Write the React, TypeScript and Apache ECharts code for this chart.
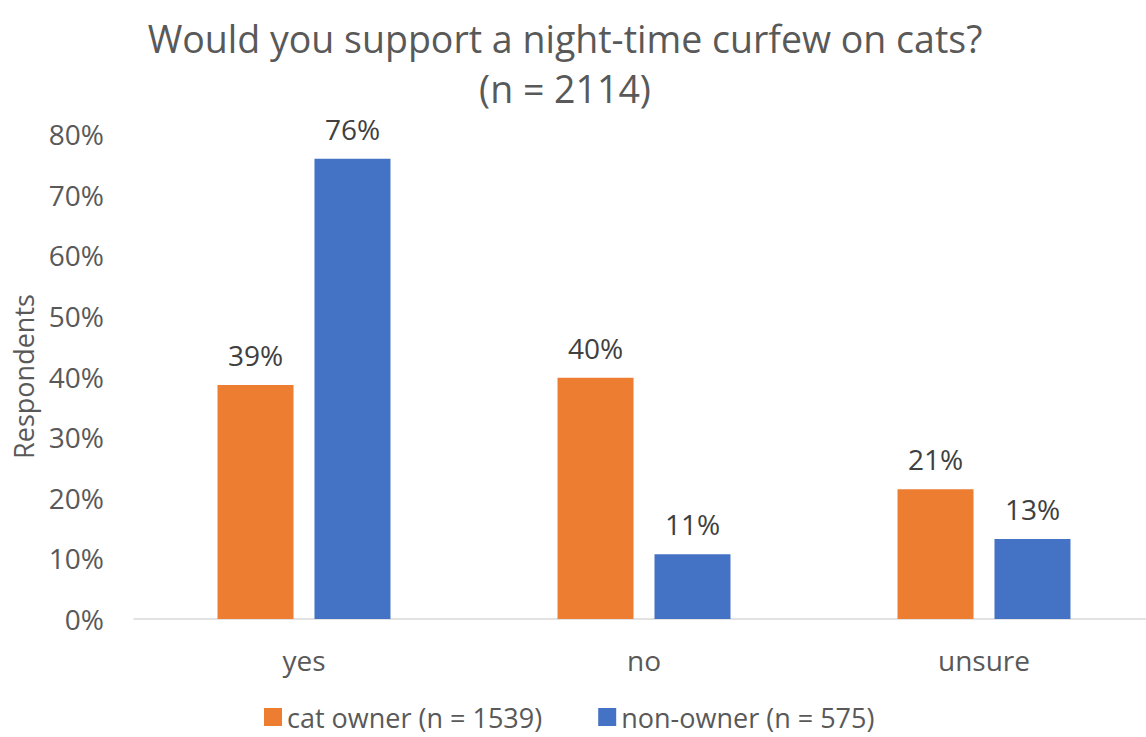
import React, { useEffect, useRef } from "react";
import * as echarts from "echarts";

const categories = ["yes", "no", "unsure"];
const catOwner = [38.6, 39.8, 21.4];
const nonOwner = [75.9, 10.7, 13.2];
const seriesNames = ["cat owner (n = 1539)", "non-owner (n = 575)"];
const yTicks = { min: 0, max: 80, interval: 10 };
const titleText = "Would you support a night-time curfew on cats?\n(n = 2114)";

const FONT = "'Open Sans', sans-serif";

export default function App() {
  const ref = useRef<HTMLDivElement>(null);
  useEffect(() => {
    if (!ref.current) return;
    const chart = echarts.init(ref.current, null, { renderer: "svg" });
    const label = {
      show: true,
      position: "top",
      distance: 16,
      color: "#404040",
      fontSize: 28,
      fontFamily: FONT,
      formatter: (p: any) => Math.round(p.value) + "%",
    };
    chart.setOption({
      animation: false,
      backgroundColor: "#ffffff",
      textStyle: { fontFamily: FONT },
      title: {
        text: titleText,
        left: 565,
        top: 13,
        padding: 0,
        textAlign: "center",
        textStyle: {
          color: "#595959",
          fontSize: 37.5,
          fontWeight: "normal",
          fontFamily: FONT,
          lineHeight: 50,
        },
      },
      legend: {
        left: 264,
        top: 703,
        padding: 0,
        itemWidth: 18,
        itemHeight: 18,
        itemGap: 56,
        icon: "rect",
        textStyle: { color: "#595959", fontSize: 27, lineHeight: 28, fontFamily: FONT },
        data: seriesNames,
      },
      grid: { left: 134, top: 134, width: 1020, height: 485, outerBoundsMode: "none" },
      xAxis: {
        type: "category",
        data: categories,
        axisLine: { lineStyle: { color: "#D9D9D9", width: 1.5 } },
        axisTick: { show: false },
        axisLabel: { color: "#595959", fontSize: 28, fontFamily: FONT, margin: 27 },
      },
      yAxis: {
        type: "value",
        min: yTicks.min,
        max: yTicks.max,
        interval: yTicks.interval,
        name: "Respondents",
        nameLocation: "middle",
        nameRotate: 90,
        nameGap: 97,
        nameTextStyle: { color: "#595959", fontSize: 27, fontFamily: FONT },
        axisLine: { show: false },
        axisTick: { show: false },
        splitLine: { show: false },
        axisLabel: {
          color: "#595959",
          fontSize: 28,
          fontFamily: FONT,
          margin: 30,
          formatter: "{value}%",
        },
      },
      series: [
        {
          name: seriesNames[0],
          type: "bar",
          data: catOwner,
          barWidth: 76,
          barGap: "27.6%",
          itemStyle: { color: "#ED7D31" },
          label,
        },
        {
          name: seriesNames[1],
          type: "bar",
          data: nonOwner,
          barWidth: 76,
          barGap: "27.6%",
          itemStyle: { color: "#4472C4" },
          label,
        },
      ],
    });
    return () => chart.dispose();
  }, []);
  return (
    <div
      ref={ref}
      style={{ position: "fixed", left: 0, top: 0, width: 1146, height: 737 }}
    />
  );
}
